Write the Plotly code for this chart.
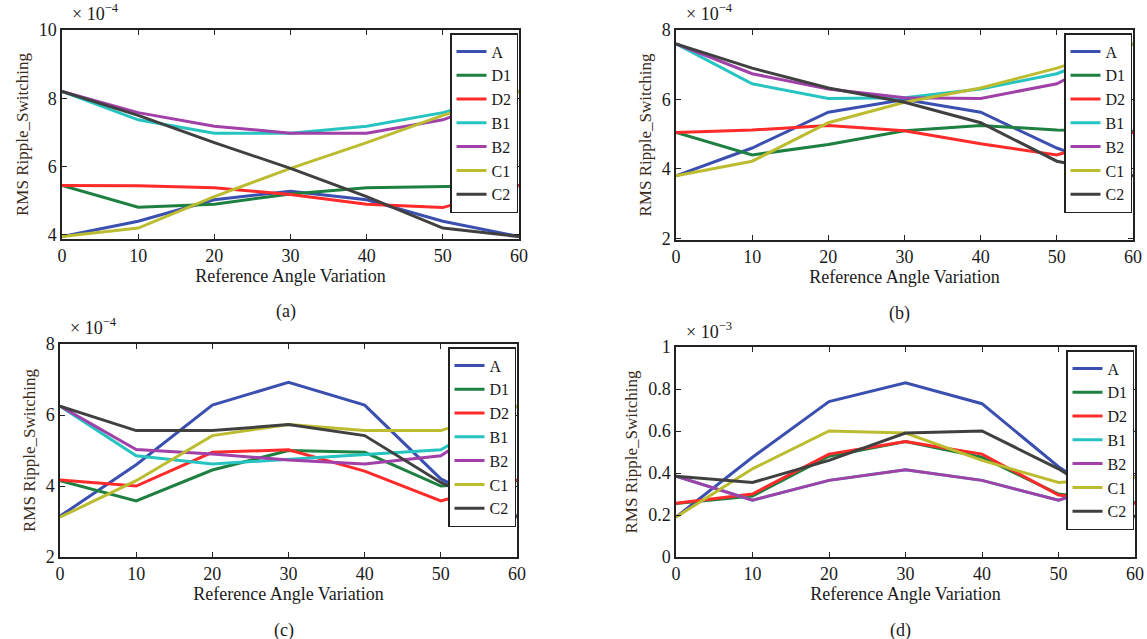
import plotly.graph_objects as go

angles = [0, 10, 20, 30, 40, 50, 60]
series_names = ["A", "D1", "D2", "B1", "B2", "C1", "C2"]
colors = ["#3b4fb0", "#1e8040", "#ff2a2a", "#26c4c0", "#a040a8", "#bcbc30", "#404040"]

# Panel (a), values x 1e-4
a_A  = [3.95, 4.40, 5.03, 5.28, 5.03, 4.40, 3.95]
a_D1 = [5.45, 4.81, 4.90, 5.20, 5.38, 5.42, 5.45]
a_D2 = [5.45, 5.44, 5.38, 5.18, 4.90, 4.80, 5.45]
a_B1 = [8.20, 7.37, 6.98, 6.98, 7.18, 7.58, 8.20]
a_B2 = [8.20, 7.58, 7.18, 6.98, 6.98, 7.37, 8.20]
a_C1 = [3.95, 4.20, 5.12, 5.95, 6.70, 7.50, 8.20]
a_C2 = [8.20, 7.50, 6.70, 5.95, 5.12, 4.20, 3.95]

# Panel (b), values x 1e-4
b_A  = [3.80, 4.60, 5.63, 6.00, 5.63, 4.60, 3.80]
b_D1 = [5.05, 4.40, 4.70, 5.10, 5.25, 5.12, 5.08]
b_D2 = [5.05, 5.12, 5.25, 5.10, 4.72, 4.40, 5.05]
b_B1 = [7.60, 6.45, 6.03, 6.05, 6.30, 6.74, 7.60]
b_B2 = [7.60, 6.74, 6.30, 6.05, 6.03, 6.45, 7.60]
b_C1 = [3.80, 4.22, 5.33, 5.92, 6.33, 6.90, 7.60]
b_C2 = [7.60, 6.90, 6.33, 5.92, 5.33, 4.22, 3.80]

# Panel (c), values x 1e-4
c_A  = [3.15, 4.60, 6.28, 6.92, 6.28, 4.20, 3.15]
c_D1 = [4.15, 3.58, 4.45, 5.00, 4.95, 4.00, 4.15]
c_D2 = [4.17, 4.00, 4.95, 5.02, 4.42, 3.58, 4.17]
c_B1 = [6.25, 4.85, 4.62, 4.75, 4.90, 5.02, 6.25]
c_B2 = [6.25, 5.03, 4.90, 4.73, 4.62, 4.85, 6.25]
c_C1 = [3.12, 4.15, 5.42, 5.73, 5.56, 5.56, 6.25]
c_C2 = [6.25, 5.56, 5.56, 5.73, 5.42, 4.10, 3.12]

# Panel (d), values x 1e-3
d_A  = [0.19, 0.475, 0.74, 0.83, 0.73, 0.43, 0.19]
d_D1 = [0.255, 0.29, 0.48, 0.55, 0.475, 0.30, 0.26]
d_D2 = [0.256, 0.30, 0.49, 0.55, 0.49, 0.295, 0.256]
d_B1 = [0.385, 0.27, 0.365, 0.415, 0.365, 0.27, 0.385]
d_B2 = [0.385, 0.27, 0.365, 0.415, 0.365, 0.27, 0.385]
d_C1 = [0.19, 0.42, 0.60, 0.59, 0.46, 0.355, 0.38]
d_C2 = [0.385, 0.355, 0.46, 0.59, 0.60, 0.42, 0.19]

panels = [
    [a_A, a_D1, a_D2, a_B1, a_B2, a_C1, a_C2],
    [b_A, b_D1, b_D2, b_B1, b_B2, b_C1, b_C2],
    [c_A, c_D1, c_D2, c_B1, c_B2, c_C1, c_C2],
    [d_A, d_D1, d_D2, d_B1, d_B2, d_C1, d_C2],
]
y_ranges = [[3.88, 10], [1.95, 8], [2, 8], [0, 1]]
y_ticks = [[4, 6, 8, 10], [2, 4, 6, 8], [2, 4, 6, 8], [0, 0.2, 0.4, 0.6, 0.8, 1]]
y_ticktext = [["4", "6", "8", "10"], ["2", "4", "6", "8"], ["2", "4", "6", "8"],
              ["0", "0.2", "0.4", "0.6", "0.8", "1"]]
exponents = ["× 10<sup>−4</sup>", "× 10<sup>−4</sup>", "× 10<sup>−4</sup>", "× 10<sup>−3</sup>"]
captions = ["(a)", "(b)", "(c)", "(d)"]

W, H = 1147, 639
# pixel boxes: left, right, top, bottom
boxes = [(62, 519, 30, 239), (676, 1133, 30, 240), (60, 517, 344, 557), (676, 1135, 347, 557)]

FONT = "Liberation Serif"
TXT = "#1a1a1a"

fig = go.Figure()
layout = dict(
    width=W, height=H, margin=dict(l=0, r=0, t=0, b=0, pad=0, autoexpand=False),
    paper_bgcolor="white", plot_bgcolor="white",
    font=dict(family=FONT, color=TXT, size=16),
    annotations=[],
)

for p in range(4):
    sfx = "" if p == 0 else str(p + 1)
    leg = "legend" if p == 0 else "legend" + str(p + 1)
    for s, name in enumerate(series_names):
        fig.add_trace(go.Scatter(
            x=angles, y=panels[p][s], name=name, mode="lines",
            line=dict(color=colors[s], width=3),
            xaxis="x" + sfx, yaxis="y" + sfx, legend=leg,
            legendgroup=f"{p}_{name}",
        ))
    l, r, t, b = boxes[p]
    xd = [l / W, r / W]
    yd = [1 - b / H, 1 - t / H]
    layout["xaxis" + sfx] = dict(
        domain=xd, range=[0, 60], tickvals=angles, anchor="y" + sfx, automargin=False,
        showline=True, linecolor="#222", linewidth=1.5, mirror="ticks",
        ticks="inside", ticklen=5, tickcolor="#222", showgrid=False, zeroline=False,
        tickfont=dict(size=18, family=FONT, color=TXT),
        title=dict(text="Reference Angle Variation", font=dict(size=18, family=FONT, color=TXT), standoff=2),
    )
    layout["yaxis" + sfx] = dict(
        domain=yd, range=y_ranges[p], tickvals=y_ticks[p], ticktext=y_ticktext[p], anchor="x" + sfx,
        automargin=False,
        showline=True, linecolor="#222", linewidth=1.5, mirror="ticks",
        ticks="inside", ticklen=5, tickcolor="#222", showgrid=False, zeroline=False,
        tickfont=dict(size=18, family=FONT, color=TXT),
        title=dict(text="RMS Ripple_Switching", font=dict(size=17, family=FONT, color="#3a2a1a"), standoff=6),
    )
    layout[leg] = dict(
        x=(r - 1) / W, y=1 - (t + 3) / H, xanchor="right", yanchor="top",
        bgcolor="white", bordercolor="#222", borderwidth=1.5,
        font=dict(size=16, family=FONT, color=TXT),
        tracegroupgap=0, itemwidth=30,
    )
    layout["annotations"].append(dict(
        text=exponents[p], x=(l + 8) / W, y=1 - (t - 17) / H, xref="paper", yref="paper",
        xanchor="left", yanchor="middle", showarrow=False,
        font=dict(size=18, family=FONT, color=TXT),
    ))
    layout["annotations"].append(dict(
        text=captions[p], x=((l + r) / 2 - 5) / W, y=1 - (b + 73) / H, xref="paper", yref="paper",
        xanchor="center", yanchor="middle", showarrow=False,
        font=dict(size=18, family=FONT, color=TXT),
    ))

fig.update_layout(**layout)
fig.write_html("out.html")
